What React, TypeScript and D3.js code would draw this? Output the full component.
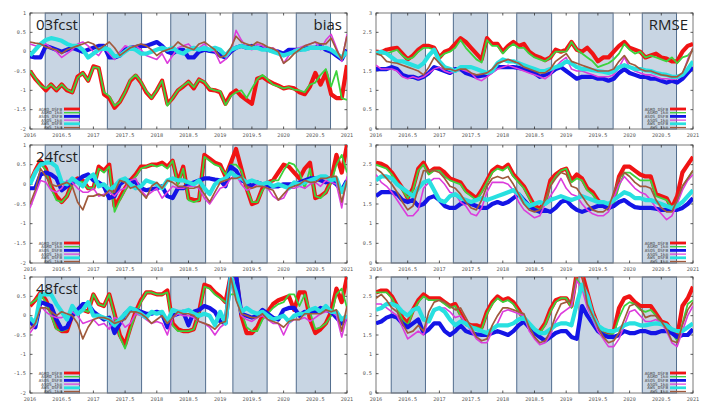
import React from "react";
import * as d3 from "d3";

// ---------- categories / ticks ----------
const seriesNames = ["AGRO_DSFB", "AGRO_1km", "ASOS_DSFB", "ASOS_1km", "AWS_DSFB", "AWS_1km"];
const xTickValues = [2016, 2016.5, 2017, 2017.5, 2018, 2018.5, 2019, 2019.5, 2020, 2020.5, 2021];
const xTickLabels = ["2016", "2016.5", "2017", "2017.5", "2018", "2018.5", "2019", "2019.5", "2020", "2020.5", "2021"];
const biasTicks = [-2, -1.5, -1, -0.5, 0, 0.5, 1];
const biasTickLabels = ["-2", "-1.5", "-1", "-0.5", "0", "0.5", "1"];
const rmseTicks = [0, 0.5, 1, 1.5, 2, 2.5, 3];
const rmseTickLabels = ["0", "0.5", "1", "1.5", "2", "2.5", "3"];
const seasonStarts = [2016.24, 2017.22, 2018.22, 2019.2, 2020.2];
const seasonEnds = [2016.78, 2017.76, 2018.77, 2019.74, 2020.74];
const leadTimes = ["03fcst", "24fcst", "48fcst"];
const startYear = 2016;

// ---------- 03fcst bias ----------
const bias03_AGRO_DSFB = [-0.5,-0.7,-0.85,-1.0,-0.85,-1.0,-0.85,-1.0,-1.05,-0.65,-0.55,-0.75,-0.38,-0.42,-1.1,-1.2,-1.45,-1.3,-1.05,-0.75,-0.62,-0.8,-1.05,-1.2,-1.0,-0.75,-1.35,-1.2,-1.0,-0.9,-0.78,-0.95,-0.72,-0.8,-0.98,-1.0,-1.05,-1.35,-1.1,-1.0,-1.15,-1.25,-1.35,-0.7,-0.65,-0.75,-0.82,-0.88,-0.95,-0.92,-0.95,-1.05,-1.1,-0.9,-0.55,-0.85,-0.55,-1.1,-1.2,-1.2,-0.35];
const bias03_AGRO_1km = [-0.5,-0.68,-0.88,-0.95,-0.85,-0.98,-0.85,-0.98,-1.05,-0.68,-0.55,-0.75,-0.4,-0.42,-1.05,-1.15,-1.4,-1.3,-1.05,-0.72,-0.6,-0.78,-1.02,-1.2,-1.0,-0.75,-1.4,-1.2,-1.0,-0.88,-0.78,-0.92,-0.72,-0.78,-0.95,-1.0,-1.02,-1.38,-1.15,-1.05,-1.0,-1.2,-0.95,-0.72,-0.6,-0.72,-0.85,-0.9,-0.95,-0.92,-0.98,-1.0,-1.05,-0.85,-0.8,-0.6,-0.45,-0.9,-0.5,-1.2,-1.25];
const bias03_ASOS_DSFB = [-0.12,-0.15,-0.15,0.15,0.1,0.05,0.0,0.05,0.1,0.05,0.0,0.05,0.1,0.15,0.15,-0.15,-0.15,-0.1,0.05,0.1,0.12,0.15,0.15,0.2,0.25,0.15,0.0,-0.05,0.05,0.05,-0.15,-0.15,0.0,0.05,0.02,0.0,-0.1,-0.15,0.0,0.1,0.15,0.1,0.15,0.1,0.1,0.05,0.02,0.0,-0.05,0.05,0.05,0.05,0.08,0.1,0.1,0.15,0.05,0.0,-0.1,-0.2,0.05];
const bias03_ASOS_1km = [0.2,0.15,0.15,0.2,0.1,0.0,-0.15,-0.05,0.05,0.2,0.25,0.15,0.0,-0.1,0.1,-0.05,-0.2,0.0,0.15,0.1,0.15,0.05,-0.1,-0.15,-0.2,-0.05,-0.3,-0.1,0.1,0.15,0.2,0.05,0.1,0.2,0.05,0.0,-0.3,-0.2,0.0,0.55,0.3,0.1,0.05,0.2,0.15,0.05,0.1,0.0,-0.3,-0.1,0.05,0.1,0.15,0.2,0.25,0.05,0.3,0.45,0.1,-0.25,0.45];
const bias03_AWS_DSFB = [-0.1,0.05,0.2,0.3,0.35,0.32,0.28,0.2,0.15,0.15,0.05,-0.15,-0.05,0.05,0.1,0.05,-0.12,-0.1,0.0,0.1,0.05,-0.05,-0.05,0.0,0.05,0.1,0.05,0.1,0.0,-0.05,0.05,0.1,0.05,0.1,0.05,0.1,0.05,-0.1,0.05,0.1,0.15,0.1,0.1,0.1,0.05,0.05,0.0,-0.05,-0.1,-0.05,0.0,0.05,0.05,0.1,0.1,0.1,0.1,0.05,-0.05,-0.15,0.0];
const bias03_AWS_1km = [0.25,0.22,0.2,0.12,0.08,0.05,-0.05,0.05,0.1,0.15,0.2,0.25,0.2,0.05,0.15,0.25,0.1,-0.1,0.0,0.1,0.15,0.2,0.15,0.05,-0.1,0.0,0.05,0.1,0.25,0.15,0.1,0.05,0.2,0.25,0.15,0.05,-0.15,-0.1,0.1,0.4,0.25,0.2,0.15,0.25,0.2,0.12,0.08,0.0,-0.3,-0.2,-0.05,0.05,0.15,0.2,0.25,0.2,0.2,0.35,0.05,-0.2,0.4];

// ---------- 03fcst RMSE ----------
const rmse03_AGRO_DSFB = [2.0,1.98,2.05,2.08,2.1,1.95,1.8,1.9,2.05,2.15,2.15,2.1,1.85,2.0,2.05,2.2,2.35,2.25,2.1,1.95,1.8,2.35,2.2,2.2,2.0,2.15,2.25,2.15,2.2,2.0,1.9,1.85,1.78,1.85,2.05,2.0,2.05,2.25,2.05,2.0,2.1,1.95,1.75,1.85,1.85,2.0,2.15,2.25,2.1,2.05,2.0,1.85,1.9,1.95,1.85,1.82,1.75,1.75,2.0,2.15,2.2];
const rmse03_AGRO_1km = [2.0,1.95,1.95,2.0,2.05,1.9,1.8,1.85,2.0,2.1,2.1,2.05,1.85,1.95,2.0,2.1,2.3,2.1,1.95,1.8,1.72,2.3,2.15,2.15,1.95,2.1,2.2,2.1,2.1,1.95,1.85,1.8,1.75,1.85,2.0,2.0,2.0,2.25,2.05,1.95,1.85,1.75,1.6,1.65,1.7,1.8,1.95,2.2,2.05,1.95,2.0,1.85,1.9,1.85,1.8,1.75,1.85,1.7,1.85,1.9,2.05];
const rmse03_ASOS_DSFB = [1.55,1.55,1.55,1.6,1.55,1.4,1.35,1.35,1.3,1.35,1.45,1.6,1.55,1.5,1.45,1.55,1.55,1.45,1.4,1.35,1.38,1.4,1.5,1.6,1.6,1.6,1.6,1.58,1.55,1.5,1.45,1.35,1.4,1.45,1.55,1.6,1.5,1.4,1.3,1.35,1.35,1.35,1.3,1.3,1.25,1.3,1.45,1.55,1.45,1.4,1.35,1.35,1.3,1.3,1.25,1.2,1.25,1.2,1.3,1.45,1.6];
const rmse03_ASOS_1km = [1.65,1.55,1.55,1.55,1.5,1.35,1.3,1.35,1.3,1.35,1.45,1.55,1.6,1.5,1.45,1.5,1.55,1.5,1.45,1.3,1.25,1.35,1.45,1.55,1.6,1.65,1.6,1.55,1.5,1.45,1.4,1.35,1.3,1.4,1.6,1.75,1.85,1.55,1.5,1.5,1.45,1.4,1.35,1.35,1.35,1.4,1.6,1.85,1.6,1.5,1.45,1.4,1.4,1.35,1.3,1.3,1.28,1.3,1.4,1.8,2.1];
const rmse03_AWS_DSFB = [1.95,2.0,1.95,1.85,1.75,1.75,1.7,1.65,1.6,1.7,1.9,2.05,1.75,1.6,1.55,1.5,1.6,1.6,1.6,1.55,1.5,1.45,1.5,1.7,1.8,1.75,1.75,1.7,1.65,1.6,1.55,1.5,1.5,1.55,1.6,1.65,1.75,1.7,1.6,1.55,1.55,1.52,1.5,1.48,1.45,1.5,1.6,1.65,1.6,1.55,1.55,1.52,1.5,1.45,1.42,1.4,1.35,1.35,1.4,1.55,1.75];
const rmse03_AWS_1km = [1.95,1.9,1.75,1.72,1.7,1.65,1.6,1.55,1.5,1.4,1.6,1.85,1.7,1.55,1.55,1.5,1.55,1.55,1.45,1.4,1.42,1.45,1.55,1.7,1.75,1.8,1.75,1.7,1.6,1.55,1.5,1.45,1.45,1.55,1.75,1.85,1.95,1.75,1.7,1.65,1.6,1.55,1.5,1.5,1.5,1.55,1.75,1.9,1.7,1.65,1.55,1.5,1.5,1.45,1.4,1.38,1.35,1.35,1.45,1.75,2.1];

// ---------- 24fcst bias ----------
const bias24_AGRO_DSFB = [0.05,0.35,0.6,0.4,-0.05,-0.3,-0.45,-0.3,0.05,0.15,0.1,-0.1,-0.1,0.45,0.35,0.5,-0.55,-0.35,-0.1,0.1,0.25,0.45,0.45,0.5,0.5,0.55,0.45,0.6,0.05,0.45,-0.35,-0.4,-0.4,0.75,0.65,0.55,0.5,0.2,0.55,0.9,0.4,-0.1,-0.5,-0.45,-0.1,0.05,0.1,0.3,0.5,0.45,0.3,0.15,0.4,0.55,-0.35,-0.3,-0.2,0.1,0.75,0.3,1.0];
const bias24_AGRO_1km = [0.1,0.35,0.55,0.35,-0.1,-0.4,-0.45,-0.3,0.0,0.1,0.05,-0.1,-0.1,0.4,0.3,0.45,-0.7,-0.4,-0.15,0.05,0.2,0.4,0.45,0.5,0.45,0.5,0.4,0.6,0.0,0.4,-0.4,-0.45,-0.4,0.7,0.6,0.5,0.45,0.25,0.5,0.5,0.35,-0.1,-0.45,-0.45,-0.15,0.0,0.1,0.1,0.35,0.55,0.5,0.3,-0.1,0.4,-0.3,-0.35,-0.2,0.05,0.5,0.75,0.3];
const bias24_ASOS_DSFB = [-0.1,-0.1,0.25,0.3,0.25,0.15,-0.15,-0.05,0.05,0.1,0.2,0.25,0.1,0.05,-0.05,-0.35,-0.3,0.0,0.1,0.08,0.05,-0.1,-0.15,-0.12,-0.1,-0.05,-0.3,-0.35,-0.1,-0.1,0.0,0.05,0.1,0.15,0.15,0.12,0.1,-0.05,0.45,0.35,0.1,0.05,-0.05,0.05,0.0,-0.05,-0.05,-0.05,0.0,0.0,0.0,0.05,0.1,0.15,0.15,0.1,0.05,0.1,0.0,-0.15,0.1];
const bias24_ASOS_1km = [-0.6,-0.25,0.1,0.05,-0.15,-0.2,-0.1,0.1,0.05,-0.1,-0.2,-0.2,-0.1,-0.3,-0.25,-0.2,-0.3,-0.15,-0.1,0.1,0.15,-0.15,-0.3,-0.2,-0.1,-0.35,-0.2,-0.05,-0.1,-0.1,-0.05,-0.05,-0.1,-0.35,-0.5,-0.3,-0.1,-0.05,0.15,0.25,0.0,-0.15,-0.1,0.0,-0.05,-0.1,-0.3,-0.4,-0.35,-0.1,-0.1,-0.05,-0.1,0.0,0.05,-0.05,0.1,0.05,0.0,-0.6,0.2];
const bias24_AWS_DSFB = [0.0,0.3,0.5,0.55,0.55,0.45,0.05,0.0,0.15,0.05,-0.05,0.15,0.25,-0.05,0.0,-0.15,-0.05,0.1,0.15,0.0,-0.1,-0.05,0.1,0.05,0.0,-0.1,0.1,0.15,0.1,0.1,0.05,0.0,0.1,-0.1,-0.25,0.0,0.1,0.15,0.3,0.2,0.15,0.05,0.1,0.05,0.0,0.05,-0.05,0.0,-0.05,-0.1,0.05,0.0,0.05,0.1,0.15,0.2,0.2,0.1,0.15,-0.2,0.05];
const bias24_AWS_1km = [-0.5,-0.15,0.4,0.2,0.0,-0.05,0.0,0.05,-0.05,-0.45,-0.65,-0.3,-0.3,-0.25,-0.3,-0.15,-0.2,0.1,0.05,-0.1,-0.05,-0.2,-0.35,-0.05,0.05,-0.1,0.1,0.05,-0.05,-0.05,-0.1,-0.1,-0.05,-0.25,-0.45,-0.2,0.05,0.1,0.15,0.15,0.2,-0.05,-0.1,-0.05,-0.05,-0.1,-0.15,-0.4,-0.25,-0.1,-0.05,0.0,0.1,0.05,0.05,0.15,0.15,0.2,0.2,-0.45,0.1];

// ---------- 24fcst RMSE ----------
const rmse24_AGRO_DSFB = [2.55,2.52,2.45,2.3,2.1,1.9,1.65,1.9,2.4,2.55,2.3,2.4,2.4,2.3,2.15,2.1,2.05,1.85,1.75,1.65,1.85,2.1,2.35,2.45,2.4,2.5,2.25,2.1,1.95,1.7,1.45,1.38,1.55,2.1,2.25,2.35,2.4,2.1,2.25,2.15,1.9,1.8,1.6,1.45,1.38,1.6,2.2,2.45,2.45,2.35,2.25,2.2,2.2,1.75,1.7,1.65,1.4,1.7,2.3,2.5,2.7];
const rmse24_AGRO_1km = [2.5,2.45,2.4,2.25,2.05,1.85,1.65,1.85,2.35,2.5,2.25,2.35,2.35,2.2,2.1,2.05,2.0,1.8,1.7,1.6,1.8,2.05,2.3,2.4,2.35,2.45,2.2,2.05,1.9,1.65,1.4,1.35,1.5,2.0,2.2,2.35,2.4,2.05,2.15,2.1,1.85,1.75,1.55,1.45,1.35,1.5,1.95,2.3,2.3,2.2,2.1,2.1,2.1,1.7,1.65,1.6,1.4,1.55,1.95,2.15,2.35];
const rmse24_ASOS_DSFB = [1.7,1.8,1.8,1.8,1.75,1.6,1.55,1.6,1.45,1.5,1.65,1.7,1.6,1.45,1.4,1.4,1.5,1.55,1.5,1.45,1.4,1.4,1.5,1.55,1.5,1.55,1.65,1.75,1.6,1.45,1.35,1.3,1.35,1.3,1.4,1.55,1.6,1.45,1.35,1.3,1.35,1.4,1.45,1.45,1.4,1.45,1.55,1.6,1.5,1.42,1.4,1.4,1.4,1.38,1.35,1.35,1.35,1.35,1.4,1.5,1.65];
const rmse24_ASOS_1km = [2.25,2.05,1.95,1.8,1.6,1.4,1.2,1.2,1.35,1.9,2.05,2.15,2.15,2.0,1.8,1.75,1.55,1.45,1.25,1.2,1.4,1.8,2.05,2.05,2.05,2.0,1.85,1.55,1.35,1.25,1.15,1.2,1.5,1.7,1.9,2.15,1.9,1.75,1.7,1.5,1.35,1.25,1.2,1.2,1.3,1.65,2.0,2.2,2.05,1.9,1.8,1.75,1.6,1.4,1.25,1.1,1.2,1.5,1.85,2.1,2.25];
const rmse24_AWS_DSFB = [2.1,2.2,2.2,2.15,2.0,1.9,1.8,1.7,1.9,2.05,2.1,1.85,1.6,1.55,1.7,1.75,1.65,1.6,1.55,1.6,1.65,1.6,1.65,1.7,1.75,1.8,1.85,1.75,1.55,1.45,1.5,1.55,1.5,1.6,1.65,1.7,1.65,1.6,1.65,1.7,1.65,1.6,1.55,1.55,1.5,1.6,1.7,1.8,1.75,1.65,1.65,1.6,1.6,1.55,1.5,1.45,1.4,1.45,1.55,1.7,1.85];
const rmse24_AWS_1km = [2.4,2.3,2.15,2.0,1.8,1.55,1.35,1.45,1.9,2.35,2.35,2.35,2.3,2.15,1.95,1.9,1.75,1.55,1.4,1.35,1.6,1.95,2.15,2.2,2.15,2.2,2.0,1.75,1.5,1.35,1.3,1.35,1.6,1.95,2.15,2.3,2.25,1.95,1.9,1.7,1.5,1.35,1.3,1.3,1.4,1.8,2.15,2.3,2.2,2.05,1.95,1.95,1.9,1.6,1.4,1.3,1.3,1.6,1.95,2.15,2.35];

// ---------- 48fcst bias ----------
const bias48_AGRO_DSFB = [0.25,0.4,0.6,0.4,0.1,-0.3,-0.4,-0.4,0.0,0.15,0.15,0.1,0.55,0.3,0.25,0.55,0.05,-0.5,-0.75,-0.3,0.1,0.4,0.6,0.6,0.55,0.55,0.65,-0.2,-0.35,-0.4,-0.4,-0.35,0.1,0.8,0.75,0.6,0.5,0.35,1.05,1.05,0.0,-0.45,-0.45,-0.3,0.0,0.1,0.3,0.4,0.45,0.5,0.15,0.6,0.6,-0.1,-0.45,-0.35,-0.2,0.1,0.7,0.35,1.0];
const bias48_AGRO_1km = [0.3,0.4,0.55,0.35,0.0,-0.35,-0.4,-0.35,0.0,0.1,0.15,0.1,0.55,0.3,0.25,0.55,0.0,-0.55,-0.85,-0.35,0.05,0.35,0.6,0.6,0.55,0.55,0.6,-0.25,-0.4,-0.4,-0.4,-0.35,0.05,0.75,0.7,0.55,0.45,0.35,0.55,0.55,0.1,-0.3,-0.4,-0.4,-0.1,0.05,0.2,0.3,0.35,0.55,0.55,0.25,0.55,0.1,-0.35,-0.3,-0.2,0.0,0.55,0.7,0.2];
const bias48_ASOS_DSFB = [-0.15,-0.3,0.35,0.3,0.25,-0.1,-0.35,-0.3,0.0,0.15,0.3,0.3,0.1,0.0,-0.1,-0.05,-0.45,-0.2,0.05,0.15,0.15,0.1,0.05,0.05,0.1,0.05,-0.3,0.0,0.05,0.1,-0.25,0.1,0.15,0.25,0.2,0.1,-0.15,-0.2,1.05,1.05,0.05,0.0,-0.05,0.0,0.15,0.05,-0.05,-0.1,0.15,0.2,0.2,0.0,0.1,0.1,0.1,0.2,0.15,0.1,-0.05,-0.2,-0.05];
const bias48_ASOS_1km = [-0.45,-0.25,0.25,0.1,0.0,-0.05,-0.05,0.0,0.1,0.0,-0.2,-0.15,-0.1,-0.25,-0.2,-0.35,-0.05,-0.1,-0.3,-0.2,0.05,0.0,-0.1,-0.2,-0.15,-0.2,-0.5,-0.05,0.05,0.0,0.0,-0.05,-0.15,-0.2,-0.3,-0.5,-0.3,-0.2,0.9,0.5,0.0,-0.1,-0.15,-0.05,0.0,-0.1,-0.2,-0.2,-0.5,-0.2,-0.1,-0.1,-0.05,-0.15,-0.05,0.05,0.1,0.1,0.0,-0.55,0.0];
const bias48_AWS_DSFB = [-0.05,-0.2,0.55,0.55,0.55,0.3,0.1,-0.1,0.25,0.05,0.15,0.35,0.0,0.0,-0.05,-0.1,-0.25,-0.1,0.05,0.2,0.15,0.05,-0.05,0.1,0.05,0.1,-0.15,0.15,0.1,0.1,0.15,0.05,0.0,0.05,0.0,-0.25,0.1,-0.2,1.0,0.6,0.1,0.2,0.1,0.05,0.1,0.0,-0.1,-0.05,0.0,-0.15,0.0,0.05,0.05,0.15,0.2,0.1,0.25,0.1,0.1,-0.1,0.0];
const bias48_AWS_1km = [-0.35,-0.2,0.2,0.2,0.1,0.0,0.1,0.05,0.0,-0.2,-0.6,-0.3,-0.1,-0.05,-0.05,-0.1,-0.2,-0.15,-0.1,0.1,0.1,0.05,-0.05,-0.2,-0.1,0.0,-0.2,-0.05,0.1,0.05,0.05,0.0,-0.15,-0.2,-0.25,-0.35,-0.2,-0.15,1.0,0.4,0.05,0.0,-0.05,-0.05,0.05,-0.1,-0.15,-0.2,-0.3,-0.15,-0.1,-0.1,0.05,0.05,0.05,0.05,0.15,0.1,0.15,-0.4,0.25];

// ---------- 48fcst RMSE ----------
const rmse48_AGRO_DSFB = [2.6,2.65,2.65,2.5,2.25,1.95,1.8,2.15,2.4,2.55,2.45,2.45,2.45,2.35,2.25,2.3,2.05,1.8,1.75,1.75,1.7,2.1,2.35,2.5,2.4,2.45,2.35,2.15,1.9,1.7,1.55,1.6,1.8,2.15,2.4,2.45,2.45,2.25,3.1,3.1,2.6,2.1,1.75,1.55,1.5,1.6,2.2,2.45,2.5,2.35,2.25,2.25,2.25,2.05,1.85,1.8,1.6,1.45,2.25,2.45,2.75];
const rmse48_AGRO_1km = [2.6,2.6,2.6,2.45,2.2,1.9,1.75,2.1,2.35,2.5,2.4,2.4,2.4,2.3,2.2,2.25,2.0,1.75,1.7,1.7,1.65,2.05,2.3,2.45,2.35,2.4,2.3,2.1,1.85,1.65,1.5,1.55,1.75,2.1,2.35,2.45,2.45,2.2,2.95,2.75,2.3,2.0,1.7,1.55,1.5,1.55,1.95,2.25,2.35,2.3,2.15,2.1,2.15,2.0,1.8,1.75,1.55,1.35,1.8,2.3,2.4];
const rmse48_ASOS_DSFB = [1.8,1.85,1.95,2.0,1.95,1.8,1.7,1.8,1.9,1.55,1.65,1.8,1.8,1.6,1.5,1.6,1.75,1.6,1.55,1.52,1.5,1.5,1.55,1.6,1.55,1.5,1.6,1.75,1.85,1.7,1.55,1.45,1.35,1.45,1.55,1.6,1.6,1.45,1.4,2.25,2.0,1.8,1.6,1.5,1.45,1.45,1.5,1.6,1.55,1.55,1.6,1.6,1.55,1.55,1.6,1.6,1.55,1.45,1.5,1.5,1.65];
const rmse48_ASOS_1km = [2.3,2.3,2.2,2.1,2.0,1.7,1.4,1.5,1.6,1.5,1.95,2.1,2.2,2.2,2.1,1.95,2.0,1.8,1.6,1.4,1.3,1.3,1.6,1.8,2.1,2.15,2.1,2.05,2.0,1.6,1.4,1.25,1.3,1.5,1.85,2.05,2.15,2.25,2.9,2.7,2.2,1.9,1.6,1.4,1.2,1.2,1.4,1.75,2.1,2.15,2.0,1.85,1.85,1.9,1.8,1.6,1.3,1.2,1.6,2.0,2.25];
const rmse48_AWS_DSFB = [2.15,2.2,2.3,2.3,2.25,2.1,2.0,2.15,2.2,1.9,1.85,2.15,2.2,2.1,1.9,1.75,1.85,1.8,1.7,1.65,1.6,1.55,1.65,1.75,1.75,1.75,1.8,1.9,1.95,1.8,1.65,1.55,1.55,1.65,1.75,1.8,1.8,1.75,2.3,2.8,2.5,2.0,1.75,1.65,1.6,1.6,1.65,1.75,1.8,1.8,1.75,1.75,1.78,1.8,1.78,1.75,1.65,1.6,1.6,1.7,1.8];
const rmse48_AWS_1km = [2.45,2.55,2.4,2.2,2.1,1.8,1.55,1.6,1.75,1.6,2.1,2.35,2.4,2.35,2.25,2.15,2.2,1.95,1.7,1.45,1.35,1.4,1.75,2.0,2.2,2.2,2.15,2.1,2.05,1.7,1.45,1.3,1.35,1.6,2.0,2.3,2.35,2.4,3.1,3.1,2.3,2.0,1.7,1.45,1.3,1.35,1.55,1.9,2.25,2.3,2.2,1.95,2.0,2.0,1.85,1.65,1.35,1.3,1.75,2.15,2.35];

// ---------- tables built from the arrays ----------
const biasData = [
  [bias03_AGRO_DSFB, bias03_AGRO_1km, bias03_ASOS_DSFB, bias03_ASOS_1km, bias03_AWS_DSFB, bias03_AWS_1km],
  [bias24_AGRO_DSFB, bias24_AGRO_1km, bias24_ASOS_DSFB, bias24_ASOS_1km, bias24_AWS_DSFB, bias24_AWS_1km],
  [bias48_AGRO_DSFB, bias48_AGRO_1km, bias48_ASOS_DSFB, bias48_ASOS_1km, bias48_AWS_DSFB, bias48_AWS_1km],
];
const rmseData = [
  [rmse03_AGRO_DSFB, rmse03_AGRO_1km, rmse03_ASOS_DSFB, rmse03_ASOS_1km, rmse03_AWS_DSFB, rmse03_AWS_1km],
  [rmse24_AGRO_DSFB, rmse24_AGRO_1km, rmse24_ASOS_DSFB, rmse24_ASOS_1km, rmse24_AWS_DSFB, rmse24_AWS_1km],
  [rmse48_AGRO_DSFB, rmse48_AGRO_1km, rmse48_ASOS_DSFB, rmse48_ASOS_1km, rmse48_AWS_DSFB, rmse48_AWS_1km],
];

// ---------- styles ----------
const seriesColors = ["#f01414", "#3cd23c", "#1414e6", "#dc3cdc", "#28e0e0", "#a05a3c"];
const seriesWidths = [4.2, 1.8, 4.2, 1.6, 4.2, 1.7];
const legendWidths = [2.8, 1.3, 2.8, 1.2, 2.8, 1.3];
const colX = [[30, 347], [376, 693]];
const rowY = [[13, 129], [145, 263], [277, 393]];

type PanelProps = {
  id: string;
  x0: number; x1: number; y0: number; y1: number;
  domain: [number, number];
  ticks: number[]; tickLabels: string[];
  series: number[][];
  legendRight: boolean;
  leftTitle?: string; rightTitle?: string;
};

function Panel(p: PanelProps) {
  const x = d3.scaleLinear().domain([2016, 2021]).range([p.x0, p.x1]);
  const y = d3.scaleLinear().domain(p.domain).range([p.y1, p.y0]);
  const line = d3
    .line<number>()
    .x((_, i) => x(startYear + i / 12))
    .y((d) => y(d));
  const tickFont = "DejaVu Sans Mono, monospace";
  const legX = p.legendRight ? p.x1 - 25 : p.x0 + 32;
  const legTop = p.y1 - 20;
  return (
    <g>
      <defs>
        <clipPath id={p.id}>
          <rect x={p.x0} y={p.y0} width={p.x1 - p.x0} height={p.y1 - p.y0} />
        </clipPath>
      </defs>
      {seasonStarts.map((s, k) => (
        <rect
          key={"b" + k}
          x={x(s)}
          y={p.y0}
          width={x(seasonEnds[k]) - x(s)}
          height={p.y1 - p.y0}
          fill="#c8d5e3"
          stroke="#526d8e"
          strokeWidth={1}
        />
      ))}
      <rect x={p.x0} y={p.y0} width={p.x1 - p.x0} height={p.y1 - p.y0} fill="none" stroke="#7a7a7a" strokeWidth={1} />
      {xTickValues.map((t, k) => (
        <g key={"xt" + k}>
          <line x1={x(t)} x2={x(t)} y1={p.y1} y2={p.y1 - 2.5} stroke="#333" strokeWidth={0.8} />
          <line x1={x(t)} x2={x(t)} y1={p.y0} y2={p.y0 + 2.5} stroke="#333" strokeWidth={0.8} />
          <text x={x(t)} y={p.y1 + 7.5} fontSize={5.2} fontFamily={tickFont} fill="#555" textAnchor="middle">
            {xTickLabels[k]}
          </text>
        </g>
      ))}
      {p.ticks.map((t, k) => (
        <g key={"yt" + k}>
          <line x1={p.x0} x2={p.x0 + 2.5} y1={y(t)} y2={y(t)} stroke="#333" strokeWidth={0.8} />
          <line x1={p.x1} x2={p.x1 - 2.5} y1={y(t)} y2={y(t)} stroke="#333" strokeWidth={0.8} />
          <text x={p.x0 - 4} y={y(t) + 1.6} fontSize={5.2} fontFamily={tickFont} fill="#555" textAnchor="end">
            {p.tickLabels[k]}
          </text>
        </g>
      ))}
      <g clipPath={`url(#${p.id})`}>
        {p.series.map((s, k) => (
          <path
            key={"s" + k}
            d={line(s) || ""}
            fill="none"
            stroke={seriesColors[k]}
            strokeWidth={seriesWidths[k]}
            strokeLinejoin="round"
          />
        ))}
      </g>
      {seriesNames.map((n, k) => (
        <g key={"lg" + k}>
          <text x={legX} y={legTop + k * 3.7 + 1.6} fontSize={4.3} fontFamily={tickFont} fill="#444" textAnchor="end">
            {n}
          </text>
          <line
            x1={legX + 2}
            x2={legX + 18}
            y1={legTop + k * 3.7}
            y2={legTop + k * 3.7}
            stroke={seriesColors[k]}
            strokeWidth={legendWidths[k]}
          />
        </g>
      ))}
      {p.leftTitle && (
        <text x={p.x0 + 6} y={p.y0 + 17} fontSize={15} fontFamily="Open Sans, sans-serif" fill="#222">
          {p.leftTitle}
        </text>
      )}
      {p.rightTitle && (
        <text x={p.x1 - 5} y={p.y0 + 17} fontSize={15} fontFamily="Open Sans, sans-serif" fill="#222" textAnchor="end">
          {p.rightTitle}
        </text>
      )}
    </g>
  );
}

export default function App() {
  return (
    <svg
      width={726}
      height={409}
      viewBox="0 0 726 409"
      style={{ position: "absolute", left: 0, top: 0, background: "#fff" }}
    >
      <rect x={0} y={0} width={726} height={409} fill="#fff" />
      {leadTimes.map((lt, r) => (
        <g key={lt}>
          <Panel
            id={"clipb" + r}
            x0={colX[0][0]}
            x1={colX[0][1]}
            y0={rowY[r][0]}
            y1={rowY[r][1]}
            domain={[-2, 1]}
            ticks={biasTicks}
            tickLabels={biasTickLabels}
            series={biasData[r]}
            legendRight={false}
            leftTitle={lt}
            rightTitle={r === 0 ? "bias" : undefined}
          />
          <Panel
            id={"clipr" + r}
            x0={colX[1][0]}
            x1={colX[1][1]}
            y0={rowY[r][0]}
            y1={rowY[r][1]}
            domain={[0, 3]}
            ticks={rmseTicks}
            tickLabels={rmseTickLabels}
            series={rmseData[r]}
            legendRight={true}
            rightTitle={r === 0 ? "RMSE" : undefined}
          />
        </g>
      ))}
    </svg>
  );
}
